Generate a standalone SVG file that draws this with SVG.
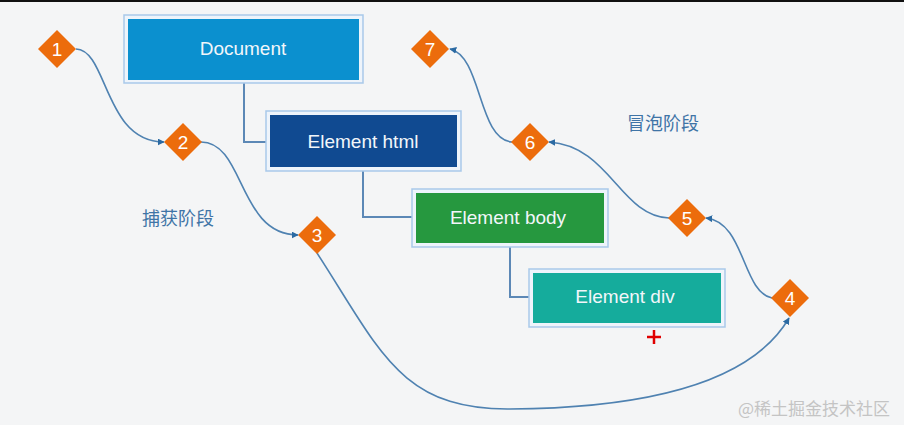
<svg xmlns="http://www.w3.org/2000/svg" width="904" height="425" viewBox="0 0 904 425">
<defs>
<marker id="arr" viewBox="0 0 10 10" refX="9" refY="5" markerWidth="7" markerHeight="7" orient="auto" markerUnits="userSpaceOnUse">
<path d="M0,0 L10,5 L0,10 Z" fill="#2b6aa3"/>
</marker>
<style>
.frame{fill:#eef4fb;stroke:#a9c9ea;stroke-width:1.5}
.btxt{font-family:"Liberation Sans","DejaVu Sans",sans-serif;font-size:19px;fill:#f2f6fa;text-anchor:middle;dominant-baseline:central}
.dia{fill:#ec6c0c}
.num{font-family:"Liberation Sans","DejaVu Sans",sans-serif;font-size:19px;fill:#ffffff;text-anchor:middle;dominant-baseline:central}
.tree{fill:none;stroke:#5c88b6;stroke-width:2}
.flow{fill:none;stroke:#4f82b1;stroke-width:1.6;marker-end:url(#arr)}
.phase{font-family:"Noto Sans CJK SC",sans-serif;font-size:18px;fill:#3f74a6}
</style>
</defs>
<rect x="0" y="0" width="904" height="425" fill="#f4f5f6"/>
<rect x="0" y="0" width="904" height="2" fill="#111"/>

<g id="connectors">
<path class="tree" d="M244,81 V142 H266"/>
<path class="tree" d="M363,167 V217 H413"/>
<path class="tree" d="M510,243 V297 H530"/>
<path class="flow" d="M76,49 C108,50 104,142 164,142"/>
<path class="flow" d="M201,142 C245,142 238,235 298,235"/>
<path class="flow" d="M317,253 C380,350 400,410 510,409 C640,408 750,385 789,318"/>
<path class="flow" d="M772,298 C742,292 745,222 706,218"/>
<path class="flow" d="M669,218 C620,216 610,146 549,142"/>
<path class="flow" d="M512,142 C478,140 482,56 450,49"/>
</g>

<g id="node-document">
<rect class="frame" x="124" y="15" width="239" height="68"/>
<rect x="128" y="19" width="231" height="61" fill="#0b90cf"/>
<text class="btxt" x="243" y="48">Document</text>
</g>
<g id="node-html">
<rect class="frame" x="266" y="111" width="195" height="60"/>
<rect x="270" y="115" width="187" height="52" fill="#104a91"/>
<text class="btxt" x="363" y="141">Element html</text>
</g>
<g id="node-body">
<rect class="frame" x="412" y="189" width="196" height="58"/>
<rect x="416" y="193" width="188" height="50" fill="#26983f"/>
<text class="btxt" x="508" y="217">Element body</text>
</g>
<g id="node-div">
<rect class="frame" x="529" y="269" width="196" height="58"/>
<rect x="533" y="273" width="188" height="50" fill="#15ac9c"/>
<text class="btxt" x="625" y="296">Element div</text>
</g>

<g id="step-1"><path class="dia" d="M57,30 L76,49 L57,68 L38,49 Z"/><text class="num" x="57" y="49">1</text></g>
<g id="step-2"><path class="dia" d="M183,123 L202,142 L183,161 L164,142 Z"/><text class="num" x="183" y="142">2</text></g>
<g id="step-3"><path class="dia" d="M317,216 L336,235 L317,254 L298,235 Z"/><text class="num" x="317" y="235">3</text></g>
<g id="step-4"><path class="dia" d="M790,279 L809,298 L790,317 L771,298 Z"/><text class="num" x="790" y="298">4</text></g>
<g id="step-5"><path class="dia" d="M687,199 L706,218 L687,237 L668,218 Z"/><text class="num" x="687" y="218">5</text></g>
<g id="step-6"><path class="dia" d="M530,123 L549,142 L530,161 L511,142 Z"/><text class="num" x="530" y="142">6</text></g>
<g id="step-7"><path class="dia" d="M430,30 L449,49 L430,68 L411,49 Z"/><text class="num" x="430" y="49">7</text></g>

<text class="phase" x="142" y="225">捕获阶段</text>
<text class="phase" x="627" y="130">冒泡阶段</text>

<g id="cursor" stroke="#e00000" stroke-width="2.5">
<line x1="647" y1="337" x2="661" y2="337"/>
<line x1="654" y1="330" x2="654" y2="344"/>
</g>

<text x="738" y="415" font-family="'Noto Sans CJK SC',sans-serif" font-size="17" fill="#c4c4c4">@稀土掘金技术社区</text>
</svg>
